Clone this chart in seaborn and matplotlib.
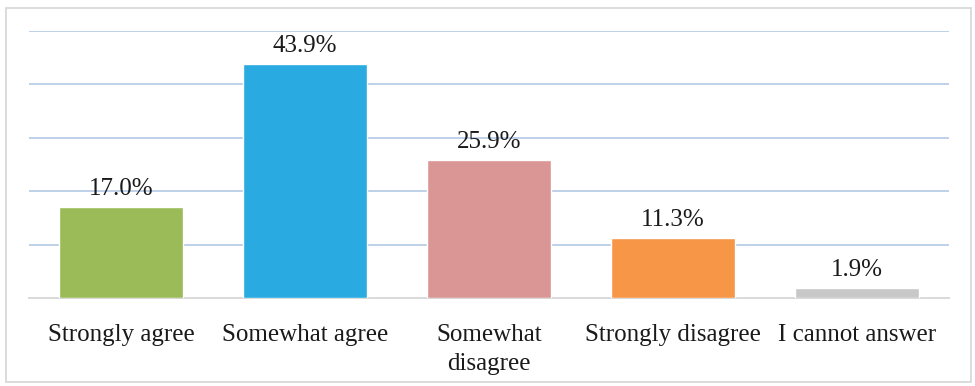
import matplotlib
matplotlib.use("Agg")
import matplotlib.pyplot as plt
import seaborn as sns
import pandas as pd

categories = ["Strongly agree", "Somewhat agree", "Somewhat\ndisagree",
              "Strongly disagree", "I cannot answer"]
values = [17.0, 43.9, 25.9, 11.3, 1.9]
colors = ["#9BBB59", "#29ABE2", "#D99694", "#F79646", "#C8C8C8"]

df = pd.DataFrame({"category": categories, "value": values})

sns.set_style("white")
plt.rcParams["font.family"] = ["Liberation Serif", "DejaVu Serif"]

W, H = 975, 386
fig = plt.figure(figsize=(W / 100, H / 100), dpi=100)
ax = fig.add_axes([29 / W, 88 / H, 920 / W, 267 / H])

sns.barplot(data=df, x="category", y="value", hue="category",
            palette=colors, width=0.674, saturation=1, legend=False, ax=ax,
            zorder=3)

ax.set_ylim(0, 50)
ax.set_xlim(-0.5, len(categories) - 0.5)
ax.set_yticks([10, 20, 30, 40, 50])
ax.yaxis.grid(True, color="#BFD0EA", linewidth=1.4, zorder=0)
ax.set_axisbelow(True)
ax.tick_params(axis="y", left=False, labelleft=False)
ax.tick_params(axis="x", bottom=False, labelsize=18, colors="#1a1a1a", pad=15.5)
for lbl in ax.get_xticklabels():
    lbl.set_linespacing(1.4)
ax.set_xlabel("")
ax.set_ylabel("")
for s in ["top", "left", "right"]:
    ax.spines[s].set_visible(False)
ax.spines["bottom"].set_color("#D9D9D9")
ax.spines["bottom"].set_linewidth(1.4)

for i, v in enumerate(values):
    ax.annotate(f"{v:.1f}%", (i, v), xytext=(0, 5), textcoords="offset points",
                ha="center", va="bottom", fontsize=18, color="#1a1a1a")

border = plt.Rectangle((6 / W, 4 / H), 965 / W, 374 / H, transform=fig.transFigure,
                       fill=False, edgecolor="#D9D9D9", linewidth=1.3)
fig.patches.append(border)

fig.savefig("out.png", dpi=100)
